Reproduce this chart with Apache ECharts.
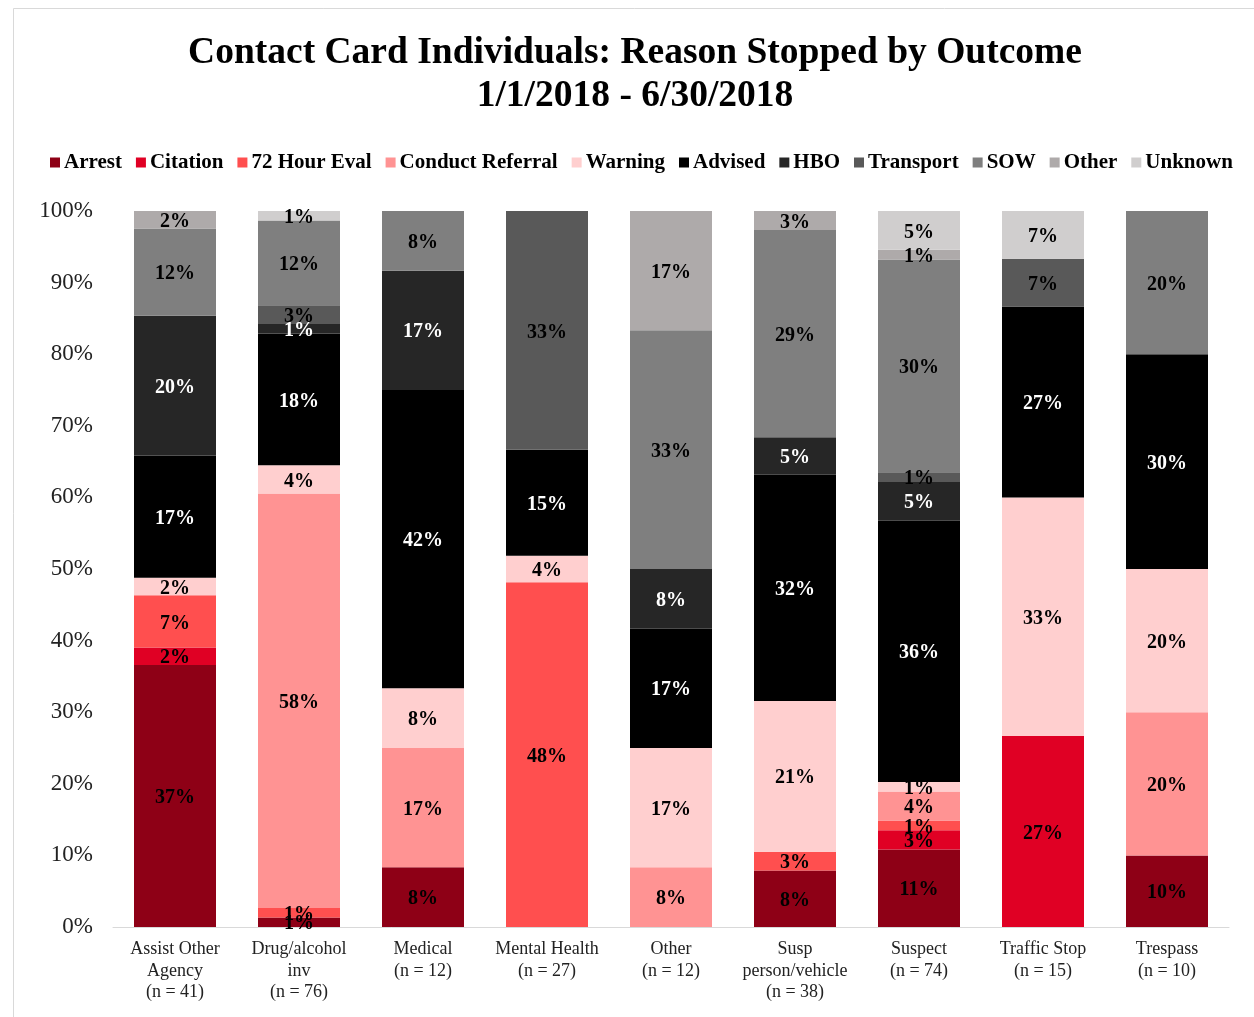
<!DOCTYPE html>
<html>
<head>
<meta charset="utf-8">
<script src="https://cdn.jsdelivr.net/npm/echarts@6/dist/echarts.min.js"></script>
<style>html,body{margin:0;padding:0;background:#fff}#c{width:1254px;height:1017px}</style>
</head>
<body>
<div id="c"></div>
<script>
const categories = ['Assist Other\nAgency\n(n = 41)', 'Drug/alcohol\ninv\n(n = 76)', 'Medical\n(n = 12)', 'Mental Health\n(n = 27)', 'Other\n(n = 12)', 'Susp\nperson/vehicle\n(n = 38)', 'Suspect\n(n = 74)', 'Traffic Stop\n(n = 15)', 'Trespass\n(n = 10)'];
const seriesNames = ['Arrest', 'Citation', '72 Hour Eval', 'Conduct Referral', 'Warning', 'Advised', 'HBO', 'Transport', 'SOW', 'Other', 'Unknown'];
const arrest          = [36.59, 1.32, 8.33, 0, 0, 7.89, 10.81, 0, 10];
const citation        = [2.44, 0, 0, 0, 0, 0, 2.70, 26.67, 0];
const hourEval72      = [7.32, 1.32, 0, 48.15, 0, 2.63, 1.35, 0, 0];
const conductReferral = [0, 57.89, 16.67, 0, 8.33, 0, 4.05, 0, 20];
const warning         = [2.44, 3.95, 8.33, 3.70, 16.67, 21.05, 1.35, 33.33, 20];
const advised         = [17.07, 18.42, 41.67, 14.81, 16.67, 31.58, 36.49, 26.67, 30];
const hbo             = [19.51, 1.32, 16.67, 0, 8.33, 5.26, 5.41, 0, 0];
const transport       = [0, 2.63, 0, 33.33, 0, 0, 1.35, 6.67, 0];
const sow             = [12.20, 11.84, 8.33, 0, 33.33, 28.95, 29.73, 0, 20];
const other           = [2.44, 0, 0, 0, 16.67, 2.63, 1.35, 0, 0];
const unknown         = [0, 1.32, 0, 0, 0, 0, 5.41, 6.67, 0];
const yTicks = [0, 10, 20, 30, 40, 50, 60, 70, 80, 90, 100];

const seriesData = [arrest, citation, hourEval72, conductReferral, warning, advised, hbo, transport, sow, other, unknown];
const colors = ['#8E0016', '#E00024', '#FF4F4F', '#FF9393', '#FFCFCF', '#000000', '#262626', '#595959', '#7F7F7F', '#AEAAAA', '#D0CECE'];
const labelColors = ['#000', '#000', '#000', '#000', '#000', '#fff', '#fff', '#000', '#000', '#000', '#000'];
const serif = '"Liberation Serif", "Times New Roman", serif';

const chart = echarts.init(document.getElementById('c'), null, {renderer: 'canvas'});
chart.setOption({
  animation: false,
  backgroundColor: '#fff',
  graphic: [{
    type: 'rect', shape: {x: 13.5, y: 8.5, width: 1400, height: 1200},
    style: {fill: 'none', stroke: '#D9D9D9', lineWidth: 1}, silent: true, z: -1
  }],
  title: {
    text: 'Contact Card Individuals: Reason Stopped by Outcome\n1/1/2018 - 6/30/2018',
    left: 630, top: 27, textAlign: 'center',
    textStyle: {fontFamily: serif, fontSize: 37.5, fontWeight: 'bold', color: '#000', lineHeight: 43}
  },
  legend: {
    data: seriesNames, left: 45, top: 147,
    icon: 'rect', itemWidth: 10, itemHeight: 10, itemGap: 14,
    textStyle: {fontFamily: serif, fontSize: 21, fontWeight: 'bold', color: '#000', padding: [0, 0, 0, -1]}
  },
  grid: {left: 113, right: 25, top: 211, bottom: 90, containLabel: false},
  xAxis: {
    type: 'category', data: categories,
    axisLine: {lineStyle: {color: '#D9D9D9', width: 1}},
    axisTick: {show: false},
    axisLabel: {fontFamily: serif, fontSize: 18, color: '#222', lineHeight: 21.5, margin: 12, interval: 0}
  },
  yAxis: {
    type: 'value', min: 0, max: 100, interval: 10,
    axisLine: {show: false}, axisTick: {show: false}, splitLine: {show: false},
    axisLabel: {fontFamily: serif, fontSize: 23, color: '#222', margin: 20,
      formatter: v => yTicks.includes(v) ? v + '%' : ''}
  },
  series: seriesNames.map((name, i) => ({
    name, type: 'bar', stack: 'total', barWidth: 82,
    data: seriesData[i],
    itemStyle: {color: colors[i]},
    label: {
      show: true, position: 'inside', offset: [0, 2],
      fontFamily: serif, fontSize: 20, fontWeight: 'bold', color: labelColors[i],
      formatter: p => p.value > 0 ? Math.round(p.value) + '%' : ''
    }
  }))
});
</script>
</body>
</html>
